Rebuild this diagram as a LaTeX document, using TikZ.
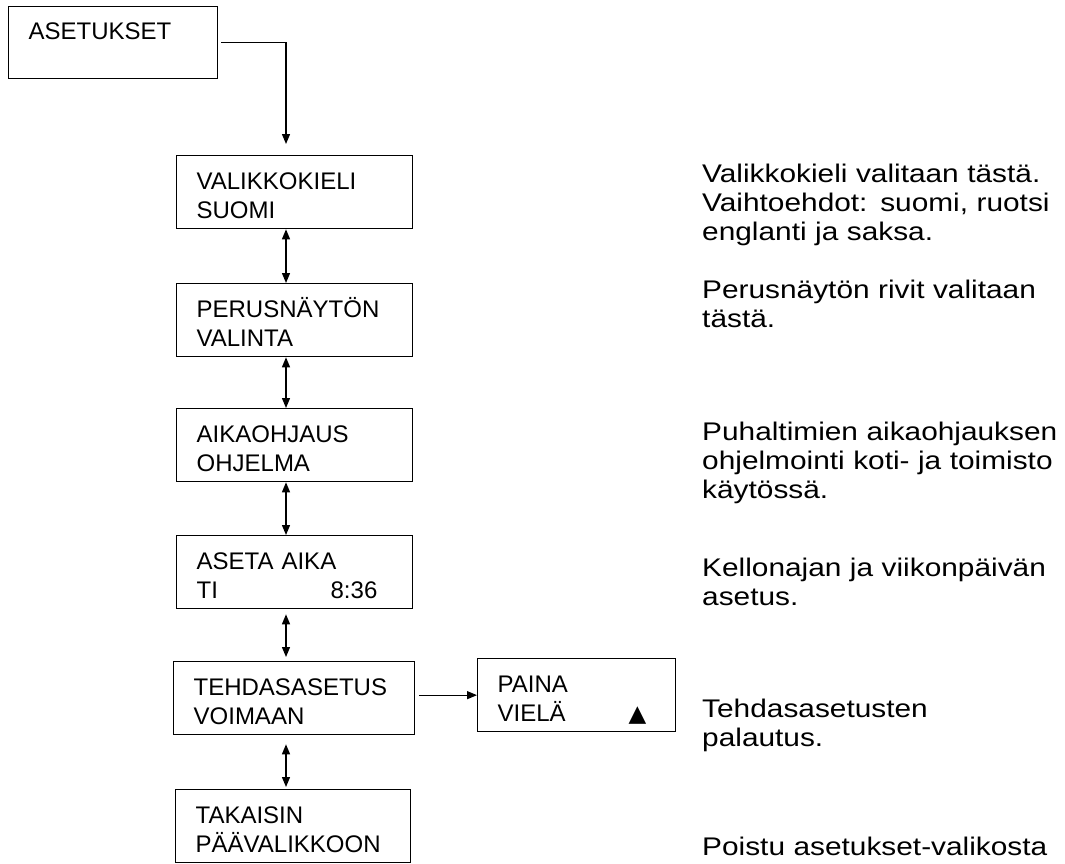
\documentclass[tikz,border=0pt]{standalone}
\usepackage{fontspec}
\setmainfont{Liberation Sans}
\newfontfamily\notefont[FakeStretch=1.17]{Liberation Sans}
\newfontfamily\symfont{DejaVu Sans}
\usetikzlibrary{arrows.meta,calc}
\newcommand{\topstrutx}{\rule{0pt}{34pt}}
\newcommand{\botstrutx}{\rule[-10pt]{0pt}{10pt}}
\newcommand{\notestrutx}{\rule{0pt}{30pt}}
\begin{document}
\begin{tikzpicture}[x=1pt,y=-1pt,
  menubox/.style={draw, line width=1.3pt, anchor=north west, inner xsep=20pt, inner ysep=0pt,
    text width=#1, align=left, font=\fontsize{24}{29}\selectfont},
  note/.style={anchor=north west, inner sep=0pt, text width=362pt, align=left,
    font=\notefont\fontsize{25.5}{29}\selectfont},
  tip/.tip={Triangle[length=10pt,width=8pt]},
  arr/.style={-tip, line width=1.3pt},
  darr/.style={tip-tip, line width=1.3pt}]
\useasboundingbox (0,0) rectangle (1065,863);

% boxes
\node[menubox=169pt] (a0) at (8,6) {\rule{0pt}{33pt}ASETUKSET\rule[-39pt]{0pt}{39pt}};
\node[menubox=196pt] (val) at (176,155) {\topstrutx VALIKKOKIELI\\SUOMI\botstrutx};
\node[menubox=196pt] (per) at (176,283) {\topstrutx PERUSNÄYTÖN\\VALINTA\botstrutx};
\node[menubox=196pt] (aik) at (176,408) {\topstrutx AIKAOHJAUS\\OHJELMA\botstrutx};
\node[menubox=196pt] (ase) at (176,535) {\topstrutx ASETA AIKA\\\makebox[134pt][l]{TI}8:36\botstrutx};
\node[menubox=201pt] (teh) at (173,661) {\topstrutx TEHDASASETUS\\VOIMAAN\botstrutx};
\node[menubox=195pt] (tak) at (175,789) {\topstrutx TAKAISIN\\PÄÄVALIKKOON\botstrutx};
\node[menubox=158pt] (paina) at (477,658) {\topstrutx PAINA\\\makebox[131pt][l]{VIELÄ}{\symfont\fontsize{23}{23}\selectfont ▲}\botstrutx};

% notes
\node[note] (n1) at (702,152) {\notestrutx Valikkokieli valitaan tästä.\\Vaihtoehdot: suomi, ruotsi\\englanti ja saksa.};
\node[note] (n2) at (702,268) {\notestrutx Perusnäytön rivit valitaan\\tästä.};
\node[note] (n3) at (702,410) {\notestrutx Puhaltimien aikaohjauksen\\ohjelmointi koti- ja toimisto\\käytössä.};
\node[note] (n4) at (702,546) {\notestrutx Kellonajan ja viikonpäivän\\asetus.};
\node[note] (n5) at (702,687) {\notestrutx Tehdasasetusten\\palautus.};
\node[note] (n6) at (702,825) {\notestrutx Poistu asetukset-valikosta};

% connectors
\coordinate (spine) at (286,0);
\draw[arr, shorten <=3pt, shorten >=11pt] (a0.east) -| (spine |- val.north);
\draw[darr] (spine |- val.south) -- (spine |- per.north);
\draw[darr] (spine |- per.south) -- (spine |- aik.north);
\draw[darr] (spine |- aik.south) -- (spine |- ase.north);
\draw[darr, shorten <=5pt, shorten >=4pt] (spine |- ase.south) -- (spine |- teh.north);
\draw[darr, shorten <=9pt, shorten >=2pt] (spine |- teh.south) -- (spine |- tak.north);
\draw[arr, shorten <=4pt] (paina.west -| teh.east) -- (paina.west);
\end{tikzpicture}
\end{document}
